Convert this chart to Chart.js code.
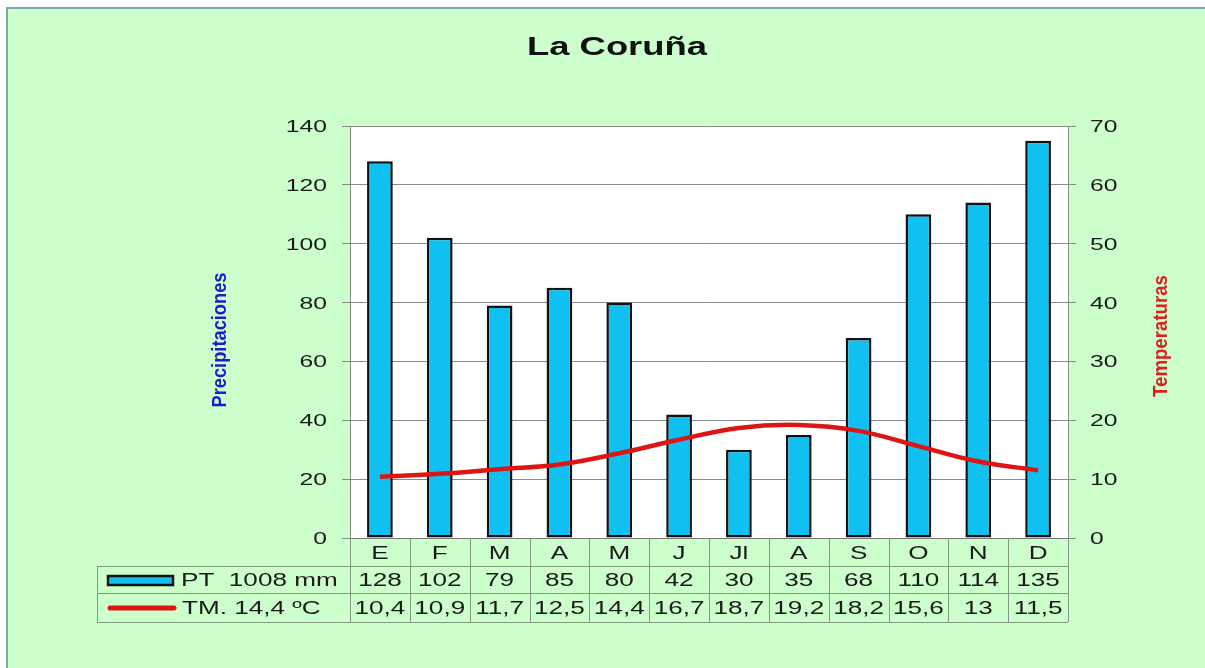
<!DOCTYPE html>
<html>
<head>
<meta charset="utf-8">
<title>La Coruña</title>
<script src="https://cdn.jsdelivr.net/npm/chart.js@4"></script>
<style>
  html, body { margin: 0; padding: 0; background: #fff; }
  #wrap { width: 1205px; height: 668px; }
</style>
</head>
<body>
<div id="wrap"><canvas id="grafico"></canvas></div>
<script>
const titulo = 'La Coruña';
const meses = ['E', 'F', 'M', 'A', 'M', 'J', 'Jl', 'A', 'S', 'O', 'N', 'D'];
const precipitaciones = [128, 102, 79, 85, 80, 42, 30, 35, 68, 110, 114, 135];
const temperaturas = [10.4, 10.9, 11.7, 12.5, 14.4, 16.7, 18.7, 19.2, 18.2, 15.6, 13, 11.5];
const ticksPrecip = [0, 20, 40, 60, 80, 100, 120, 140];
const ticksTemp = [0, 10, 20, 30, 40, 50, 60, 70];
const leyendaPT = 'PT  1008 mm';
const leyendaTM = 'TM. 14,4 ºC';

const FUENTE = '"Liberation Sans", Arial, sans-serif';
const ESTIRA = 1.45; // el original tiene el texto ensanchado

function texto(ctx, s, x, y, align, size, bold, color, sx) {
    ctx.save();
    ctx.font = (bold ? 'bold ' : '') + size + 'px ' + FUENTE;
    ctx.fillStyle = color;
    ctx.textBaseline = 'alphabetic';
    ctx.textAlign = align;
    ctx.translate(x, y);
    ctx.scale(sx || ESTIRA, 1);
    ctx.fillText(s, 0, 0);
    ctx.restore();
}

function vertical(ctx, s, cx, cy, largo, color) {
    ctx.save();
    ctx.font = 'bold 16px "Liberation Sans Narrow", "Arial Narrow", ' + FUENTE;
    const w = ctx.measureText(s).width;
    ctx.translate(cx, cy);
    ctx.rotate(-Math.PI / 2);
    ctx.scale(largo / w, 1.3);
    ctx.fillStyle = color;
    ctx.textAlign = 'center';
    ctx.textBaseline = 'middle';
    ctx.fillText(s, 0, 0);
    ctx.restore();
}

const decorado = {
    id: 'decorado',
    beforeDraw(chart) {
        const ctx = chart.ctx;
        const a = chart.chartArea;
        ctx.save();
        ctx.fillStyle = '#ffffff';
        ctx.fillRect(0, 0, chart.width, chart.height);
        ctx.fillStyle = '#ccffcc';
        ctx.fillRect(7, 8, chart.width - 7, chart.height - 8);
        ctx.strokeStyle = '#7fa6aa';
        ctx.lineWidth = 2;
        ctx.beginPath();
        ctx.moveTo(7, chart.height);
        ctx.lineTo(7, 8);
        ctx.lineTo(chart.width, 8);
        ctx.stroke();
        ctx.fillStyle = '#ffffff';
        ctx.fillRect(a.left, a.top, a.right - a.left, a.bottom - a.top);
        ctx.restore();
    },
    afterDraw(chart) {
        const ctx = chart.ctx;
        const a = chart.chartArea;
        const y = chart.scales.y;
        const y1 = chart.scales.y1;
        const x = chart.scales.x;

        texto(ctx, titulo, 617, 55, 'center', 26, true, '#111', 1.4);

        ticksPrecip.forEach(v => {
            texto(ctx, String(v), 327, y.getPixelForValue(v) + 6, 'right', 17, false, '#1a1a1a');
        });
        ticksTemp.forEach(v => {
            texto(ctx, String(v), 1090, y1.getPixelForValue(v) + 6, 'left', 17, false, '#1a1a1a');
        });

        vertical(ctx, 'Precipitaciones', 220, 340, 135, '#1c1ccc');
        vertical(ctx, 'Temperaturas', 1161, 336, 122, '#dd2020');

        // tabla de datos
        const fila1 = a.bottom + 28, fila2 = fila1 + 27, fila3 = fila2 + 29;
        const izq = 97;
        const ancho = (a.right - a.left) / meses.length;
        ctx.save();
        ctx.strokeStyle = '#7f9a7f';
        ctx.lineWidth = 1;
        ctx.beginPath();
        [fila1, fila2, fila3].forEach(f => {
            ctx.moveTo(izq, f + 0.5);
            ctx.lineTo(a.right, f + 0.5);
        });
        ctx.moveTo(izq + 0.5, fila1);
        ctx.lineTo(izq + 0.5, fila3);
        for (let i = 0; i <= meses.length; i++) {
            const px = Math.round(a.left + i * ancho) + 0.5;
            ctx.moveTo(px, a.bottom);
            ctx.lineTo(px, fila3);
        }
        ctx.stroke();
        ctx.restore();

        meses.forEach((m, i) => {
            const cx = x.getPixelForValue(i);
            texto(ctx, m, cx, (a.bottom + fila1) / 2 + 6.5, 'center', 18, false, '#1a1a1a');
            texto(ctx, String(precipitaciones[i]), cx, (fila1 + fila2) / 2 + 6.5, 'center', 18, false, '#1a1a1a');
            texto(ctx, String(temperaturas[i]).replace('.', ','), cx, (fila2 + fila3) / 2 + 6.5, 'center', 18, false, '#1a1a1a');
        });

        // leyenda
        ctx.save();
        ctx.fillStyle = '#10c0f0';
        ctx.fillRect(108, 576, 65, 9);
        ctx.strokeStyle = '#111';
        ctx.lineWidth = 2.5;
        ctx.strokeRect(108, 576, 65, 9);
        ctx.strokeStyle = '#dd1515';
        ctx.lineWidth = 5;
        ctx.lineCap = 'round';
        ctx.beginPath();
        ctx.moveTo(110, 608);
        ctx.lineTo(174, 608);
        ctx.stroke();
        ctx.restore();
        texto(ctx, leyendaPT, 181, (fila1 + fila2) / 2 + 6.5, 'left', 18, false, '#1a1a1a');
        texto(ctx, leyendaTM, 182, (fila2 + fila3) / 2 + 6.5, 'left', 18, false, '#1a1a1a');
    }
};

const ctx = document.getElementById('grafico');
new Chart(ctx.getContext('2d'), {
    data: {
        labels: meses,
        datasets: [
            {
                type: 'line',
                label: 'Temperaturas',
                data: temperaturas,
                yAxisID: 'y1',
                borderColor: '#dd1515',
                borderWidth: 4.5,
                tension: 0.4,
                pointRadius: 0,
                fill: false,
                order: 0
            },
            {
                type: 'bar',
                label: 'Precipitaciones',
                data: precipitaciones,
                yAxisID: 'y',
                backgroundColor: '#10c0f0',
                borderColor: '#111',
                borderWidth: 2.5,
                borderSkipped: false,
                categoryPercentage: 1,
                barPercentage: 0.43,
                order: 1
            }
        ]
    },
    options: {
        responsive: true,
        maintainAspectRatio: false,
        animation: false,
        layout: { padding: { top: 126, left: 0, right: 0, bottom: 0 } },
        plugins: {
            legend: { display: false },
            tooltip: { enabled: false }
        },
        scales: {
            x: {
                grid: { display: false },
                border: { color: '#777', width: 1 },
                ticks: { display: false },
                afterFit: s => { s.height = 130; }
            },
            y: {
                position: 'left',
                min: 0,
                max: 140,
                afterBuildTicks: s => { s.ticks = ticksPrecip.map(v => ({ value: v })); },
                ticks: { display: false },
                grid: { color: '#8a8a8a', tickLength: 8 },
                border: { color: '#8a8a8a' },
                afterFit: s => { s.width = 350; }
            },
            y1: {
                position: 'right',
                min: 0,
                max: 70,
                afterBuildTicks: s => { s.ticks = ticksTemp.map(v => ({ value: v })); },
                ticks: { display: false },
                grid: { drawOnChartArea: false, color: '#8a8a8a', tickLength: 8 },
                border: { color: '#8a8a8a' },
                afterFit: s => { s.width = 137; }
            }
        }
    },
    plugins: [decorado]
});
</script>
</body>
</html>
